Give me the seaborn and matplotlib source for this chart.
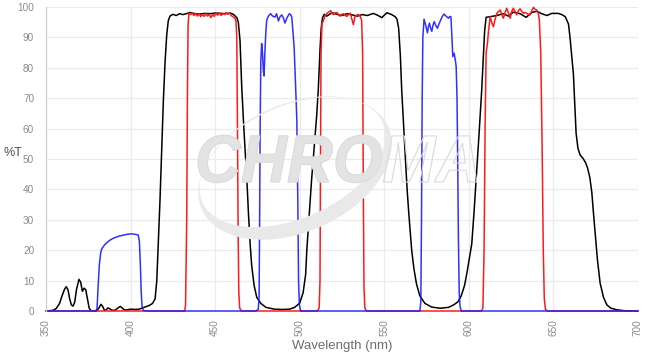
import matplotlib
matplotlib.use('Agg')
import matplotlib.pyplot as plt
import numpy as np
import seaborn as sns
from matplotlib.font_manager import FontProperties
from matplotlib.patches import PathPatch
from matplotlib.path import Path
from matplotlib.textpath import TextPath
from matplotlib.transforms import Affine2D, IdentityTransform


# multiband filter (black)
black_wl = [350, 354, 356, 358, 359.5, 361, 362, 363, 364, 365, 366, 367, 368, 369.5, 370.5,
            371.5, 372.5, 373.5, 374.5, 375.5, 376.5, 380, 381.5, 382.5, 383.5, 384.5, 385.5,
            386.5, 387.5, 389, 391, 393, 394, 395, 396.5, 398, 400, 403, 405, 407, 409, 411,
            413, 414.5, 415.5, 416.5, 417.4, 418.4, 419.4, 420.4, 421.4, 422.3, 423.3, 425,
            427, 429, 431, 433, 435, 438, 441, 444, 447, 450, 453, 456, 459, 461, 462.8,
            463.7, 464.7, 465.7, 466.7, 467.7, 468.7, 469.7, 470.7, 471.6, 473, 474.6, 477,
            480, 485, 490, 494, 497, 500, 502, 503.5, 504.2, 505, 506, 507, 508, 509, 510,
            511, 512, 512.7, 513.5, 514.5, 516, 519, 522, 525, 528, 531, 534, 537, 540,
            543.5, 546, 548.5, 551.5, 554, 556.5, 557.5, 558.5, 559.5, 560.3, 561.5, 562.5,
            563.5, 564.5, 565.5, 566.2, 567.5, 569, 571, 574, 578, 583, 588, 591, 593.5,
            595.5, 597.5, 599, 600.5, 601.7, 603, 604.5, 606, 607.6, 608.5, 609.3, 610.2,
            612.5, 614.5, 616.5, 620.4, 623.4, 626.2, 630.3, 633.9, 637.2, 640.2, 643.1,
            646.2, 649, 652.9, 655, 657, 658.9, 659.8, 660.8, 661.8, 662.6, 663.4, 664.5,
            665.8, 667.5, 669, 670.2, 671.5, 672.7, 673.7, 674.7, 676, 677.6, 679.6, 681.6,
            684, 687.5, 692, 700]
black_t = [0, 0.2, 0.8, 2.5, 5, 7.2, 8, 7, 4, 2, 1.6, 3, 7, 10.4, 9.5,
           6.5, 7.5, 7, 4, 1, 0.1, 0, 1.2, 2.2, 1.5, 0.3, 0.3,
           1.0, 0.8, 0.2, 0.3, 1.2, 1.5, 1.0, 0.3, 0.4, 0.6, 0.5, 0.6, 1, 1.4, 1.8,
           2.5, 4, 10, 24, 36.5, 53, 69.4, 82, 91, 95.5, 97, 97.6,
           97.2, 97.8, 97.5, 97.8, 98.2, 97.8, 97.7, 97.9, 97.8, 98, 97.9, 97.8, 98, 97.5, 96.5,
           95, 89, 74, 63, 53, 44, 32, 22, 15, 8.5, 4.5, 2.5,
           1.2, 0.6, 0.5, 0.6, 1.2, 2.6, 6, 12, 20, 26.6, 35, 43, 50, 57, 64,
           73, 86, 93, 96.5, 97.6, 97, 98.1, 97.6, 97.2, 97.8, 97.4, 97, 97.5, 97.2,
           97.9, 97.3, 96.5, 98.1, 97.6, 96.8, 96, 93, 84, 72.7, 60, 50,
           40, 32, 25, 20, 14, 9, 5, 2.5, 1.3, 0.9, 1.2, 2, 3,
           5, 8.5, 13, 18, 22, 32, 45, 58, 72.7, 83, 92, 96.6,
           96.8, 97, 97.2, 97.8, 97, 98.3, 97.8, 96.6, 98.2, 98.6, 97.8,
           97.2, 97.9, 97.9, 97.5, 96.8, 94.4, 90, 84, 78, 68, 58.5, 53.5,
           51.3, 50.2, 48.8, 47, 44, 39, 32, 25.6, 17, 9.2, 4.5, 2,
           0.9, 0.4, 0.1, 0]

# single band filters (red)
red_wl = [350, 432, 432.5, 433.2, 433.6, 434, 434.5, 435.5, 436.5, 437.5, 438.5, 439.5, 440.5,
          441.5, 442.5, 443.5, 444.5, 445.5, 446.5, 447.5, 448.5, 449.5, 450.5, 451.5, 452.5,
          453.5, 454.5, 455.5, 456.5, 457.5, 458.5, 459.5, 460.5, 461.5, 462.3, 462.8, 463.2,
          463.6, 464, 464.5, 465.5,
          510.5, 511.5, 512, 512.3, 512.6, 513.2, 514, 514.9, 516, 517, 518.3, 519.3, 520, 521,
          522, 523, 523.9, 525, 525.9, 527, 527.9, 529, 529.9, 530.9, 531.7, 532.7, 533.7,
          534.7, 535.7, 536.6, 537.2, 537.6, 538, 538.5, 539.5,
          607.5, 608.3, 609, 609.6, 610.2, 611, 611.6, 612.6, 613.5, 614.5, 615.5, 616.5, 617.5,
          618.5, 619.5, 620.4, 621.4, 622.4, 623.4, 624.4, 625.3, 626.3, 627.3, 628.3, 629.3,
          630.3, 631.3, 632.3, 633.2, 634.2, 635.2, 636.2, 637.2, 638.2, 639.2, 640.2, 641.2,
          641.7, 642.5, 643.3, 644, 644.6, 645.3, 646.5, 700]
red_t = [0, 0, 2, 30, 70, 94, 97.9, 97.5, 98, 97.2, 97.9, 97, 97.8,
         96.8, 97.6, 96.9, 97.8, 97, 97.6, 96.5, 97.5, 96.9, 98, 97.3, 98.1,
         97.2, 97.9, 97.5, 98.2, 97.6, 98, 97.2, 96.8, 96.5, 95.5, 90, 60,
         25, 6, 1, 0,
         0, 1, 10, 50, 85, 94.6, 95.5, 96.9, 97.8, 98.3, 98.8, 97.8, 97.5, 98.1,
         98.2, 97.4, 97, 97.6, 97.8, 97.2, 96.9, 97.6, 98, 95.9, 94.2, 96.9, 97.4,
         97.5, 97, 95.7, 85, 40, 8, 1, 0,
         0, 1, 20, 60, 85, 88, 92, 96.8, 95, 93.5, 96, 97.9, 98.5,
         99.0, 97.5, 96.3, 98.2, 99.6, 98, 96.3, 98.5, 99.6, 98.5, 97.4, 98.8,
         99.4, 98.5, 97.9, 98.2, 97.9, 97.6, 97.4, 98.8, 99.9, 99.2, 99.0, 97.5,
         95.5, 85, 55, 20, 4, 0.5, 0, 0]

# single band filters (blue)
blue_wl = [350, 379.5, 380.2, 380.8, 381.5, 382.3, 383, 385, 387.5, 390, 393, 396, 400, 403,
           404.5, 405.2, 405.8, 406.3, 406.8, 407.5, 409,
           474, 475.5, 476, 476.3, 476.6, 477, 477.5, 478, 478.5, 478.9, 479.4, 480, 480.5,
           481.5, 482.7, 484, 485.4, 486.3, 487.4, 488.4, 489.4, 490.3, 491.3, 492.5, 493.9,
           494.6, 495.3, 496, 496.7, 497.5, 498.3, 498.9, 499.3, 499.8, 500.5,
           571, 571.6, 572, 572.4, 572.8, 573.5, 574.5, 575.5, 576.1, 576.7, 577.4, 578.1,
           578.8, 579.5, 580.4, 581.4, 582.4, 583.4, 584.4, 585.4, 586.5, 588, 588.7, 589.4,
           590, 590.5, 591.3, 592, 592.5, 593, 593.4, 593.8, 594.3, 594.8, 595.5, 700]
blue_t = [0, 0, 1, 8, 15, 19, 20.5, 22, 23.2, 24, 24.6, 25, 25.4, 25.2,
          25, 23, 15, 6, 1.5, 0.2, 0,
          0, 0.5, 5, 30, 60, 82, 88, 85, 79, 77.3, 85, 92, 95.7,
          97, 97.8, 97, 96.7, 97.8, 95.4, 96.8, 97.4, 96.5, 94.7, 96.5, 97.8,
          97.5, 96.7, 92, 86.8, 75, 62.8, 35, 10, 2, 0,
          0, 3, 30, 70, 90, 96, 94, 91.5, 93.5, 94.7, 93, 92,
          94, 95.2, 94, 93, 94.5, 95.8, 97, 97.7, 97, 96.3, 96.9, 96.8,
          90, 83.7, 84.8, 82.5, 80.4, 70, 50, 25, 6, 1.5, 0, 0]

x_ticks = [350, 400, 450, 500, 550, 600, 650, 700]
y_ticks = [0, 10, 20, 30, 40, 50, 60, 70, 80, 90, 100]


def add_watermark(fig):
    # CHROMA logo, drawn in pixel coordinates (dpi 100)
    t = np.linspace(0, 2 * np.pi, 240)
    rot = Affine2D().rotate_deg(24).translate(295, 354 - 168)
    outer = np.column_stack([102 * np.cos(t), 64 * np.sin(t)])
    inner = np.column_stack([98.5 * np.cos(t), 56 * np.sin(t) + 6.5])[::-1]
    verts = np.vstack([outer, inner])
    codes = np.full(len(verts), Path.LINETO)
    codes[0] = Path.MOVETO
    codes[len(outer)] = Path.MOVETO
    ring = Path(rot.transform(verts), codes)
    fig.patches.append(PathPatch(ring, transform=IdentityTransform(), facecolor='#e9e9e9',
                                 edgecolor='none', zorder=0.5))

    prop = FontProperties(family='Liberation Sans', weight='bold', style='italic')
    place = Affine2D().scale(0.95, 1.0).translate(195, 354 - 182)
    full = TextPath((0, 0), 'CHROMA', size=67, prop=prop)
    part = TextPath((0, 0), 'CHRO', size=67, prop=prop)
    fig.patches.append(PathPatch(place.transform_path(full), transform=IdentityTransform(),
                                 facecolor='none', edgecolor='#d9d9d9', lw=0.8, zorder=0.6))
    fig.patches.append(PathPatch(place.transform_path(part), transform=IdentityTransform(),
                                 facecolor='#e3e3e3', edgecolor='#dcdcdc', lw=0.6, zorder=0.6))


def main():
    sns.set_style('white')
    plt.rcParams['font.family'] = ['Liberation Sans', 'DejaVu Sans']

    fig = plt.figure(figsize=(6.52, 3.54), dpi=100)
    ax = fig.add_axes([46 / 652, 43 / 354, 592 / 652, 304 / 354])
    ax.patch.set_alpha(0)

    ax.grid(True, color='#ebebeb', lw=0.9)
    ax.set_axisbelow(True)

    sns.lineplot(x=black_wl, y=black_t, color='black', lw=1.1, estimator=None, sort=False, ax=ax)
    sns.lineplot(x=red_wl, y=red_t, color='#ff1a1a', lw=1.1, estimator=None, sort=False, ax=ax)
    sns.lineplot(x=blue_wl, y=blue_t, color='#1a1aff', lw=1.1, alpha=0.9, estimator=None,
                 sort=False, ax=ax)
    for line in ax.lines:
        line.set_clip_on(False)

    ax.set_xlim(350, 700)
    ax.set_ylim(0, 100)
    ax.set_xticks(x_ticks)
    ax.set_yticks(y_ticks)
    ax.tick_params(axis='y', length=6.5, color='#ebebeb', pad=2, labelsize=7.2,
                   labelcolor='#8a8a8a')
    ax.tick_params(axis='x', length=0, pad=6, labelsize=7.2, labelcolor='#8a8a8a',
                   labelrotation=90)

    for side in ['top', 'right', 'bottom']:
        ax.spines[side].set_visible(False)
    ax.spines['left'].set_color('#d0d0d0')
    ax.spines['left'].set_linewidth(0.9)

    ax.set_xlabel('Wavelength (nm)', fontsize=9.5, color='#6e6e6e', labelpad=3)
    ax.set_ylabel('')
    fig.text(3 / 652, 1 - 153 / 354, '%T', fontsize=9, color='#4a5060', va='center', ha='left')

    add_watermark(fig)

    fig.savefig('out.png', dpi=100)


if __name__ == '__main__':
    main()
